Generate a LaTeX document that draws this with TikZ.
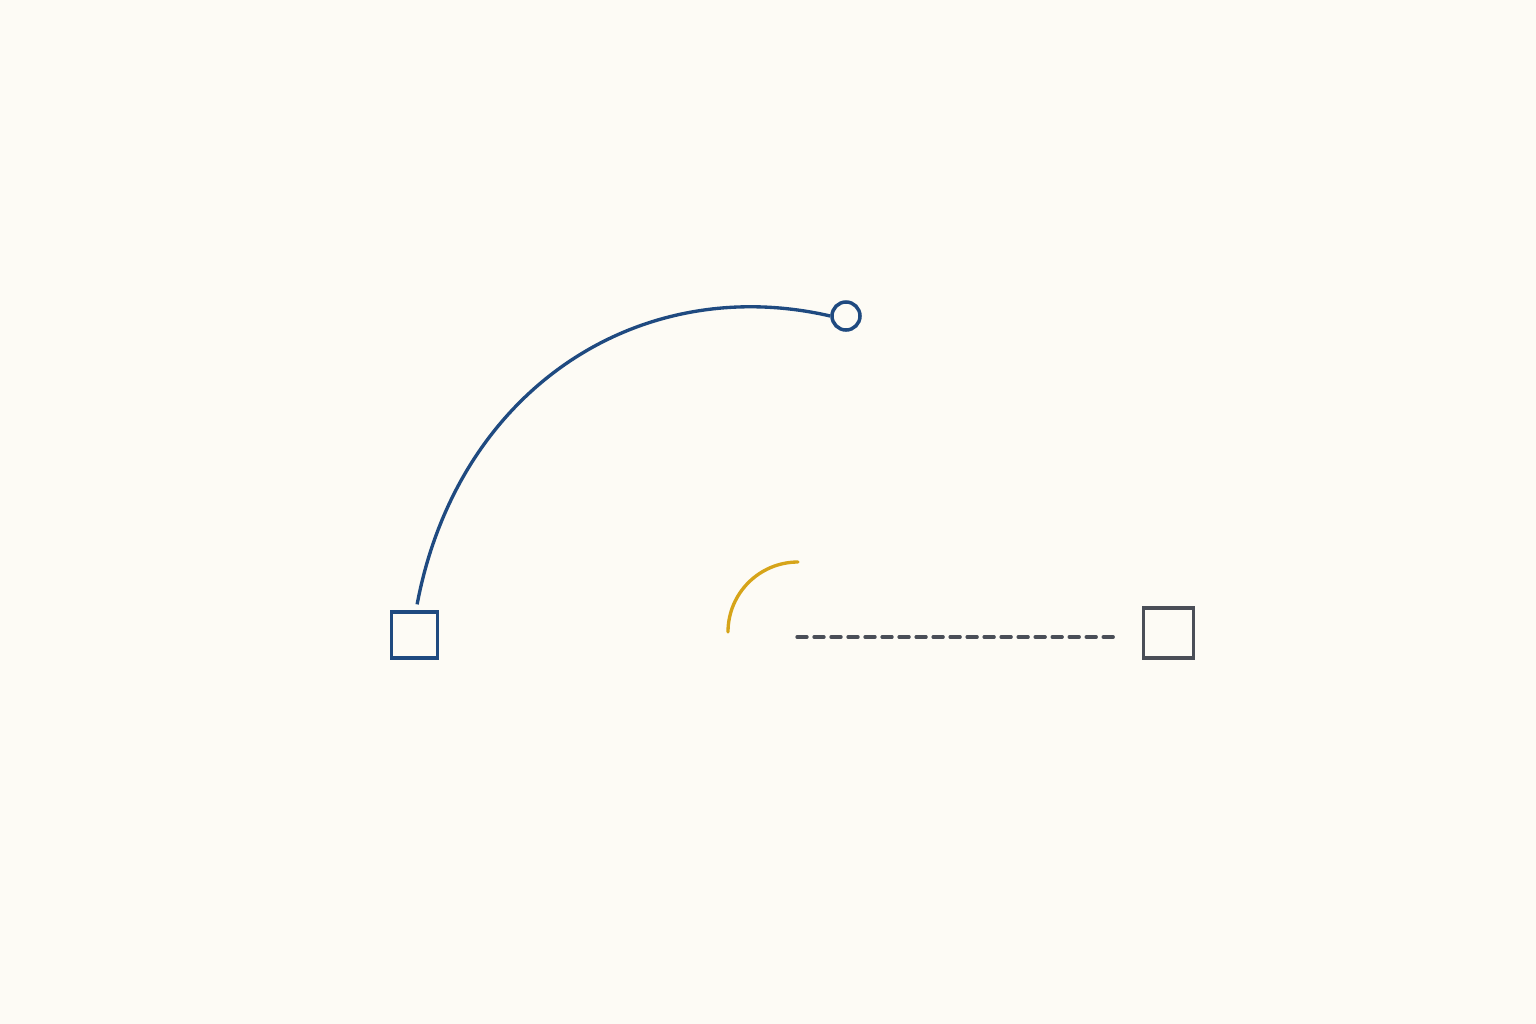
\documentclass[tikz,border=0pt]{standalone}
\usepackage{xcolor}
\usepackage{tikz}
\definecolor{paper}{HTML}{FDFBF5}
\definecolor{inkblue}{HTML}{1F4A80}
\definecolor{inkgold}{HTML}{D6A419}
\definecolor{inkgray}{HTML}{4A4E57}

\begin{document}
\begin{tikzpicture}[x=0.01cm, y=-0.01cm, line width=0.95pt]
    % Background
    \fill[paper] (0,0) rectangle (1536,1024);
    \useasboundingbox (0,0) rectangle (1536,1024);

    % Nodes
    \node[draw=inkblue, rectangle, minimum size=0.46cm, inner sep=0pt, line width=1pt] (leftbox) at (414.5,635) {};
    \node[draw=inkblue, circle, minimum size=0.28cm, inner sep=0pt, line width=1pt] (knob) at (846,316) {};
    \node[draw=inkgray, rectangle, minimum size=0.50cm, inner sep=0pt, line width=1pt] (rightbox) at (1168.5,633) {};
    \coordinate (dashstart) at (797,637);

    % Arcs
    \draw[inkblue, shorten <=0.06cm] ([xshift=0.015cm]leftbox.north) .. controls (458,388) and (640,272) .. (knob.west);
    \draw[inkgold, line cap=round] (728,632) arc[start angle=180, end angle=270, radius=70];

    % Arrows
    \draw[inkgray, dash pattern=on 0.1cm off 0.07cm, line cap=round, shorten >=0.25cm] (dashstart) -- (dashstart -| rightbox.west);
\end{tikzpicture}
\end{document}
